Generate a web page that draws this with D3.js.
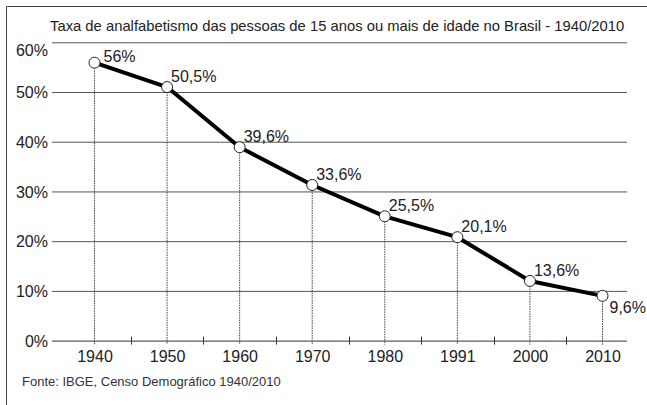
<!DOCTYPE html>
<html lang="pt">
<head>
    <meta charset="utf-8">
    <title>Taxa de analfabetismo - Brasil 1940/2010</title>
    <script src="https://d3js.org/d3.v7.min.js"></script>
    <style>
        body { margin: 0; background: #fff; }
        svg { display: block; font-family: "Liberation Sans", Arial, sans-serif; }
    </style>
</head>
<body>
    <div id="chart-container"></div>

    <script>
        // census years (category axis)
        const years = ['1940', '1950', '1960', '1970', '1980', '1991', '2000', '2010'];
        // where the points sit in the picture (percent)
        const rates = [55.9, 51.0, 38.9, 31.3, 25.0, 20.8, 12.0, 9.0];
        // printed value labels
        const rateLabels = ['56%', '50,5%', '39,6%', '33,6%', '25,5%', '20,1%', '13,6%', '9,6%'];
        const yTicks = [0, 10, 20, 30, 40, 50, 60];

        const title = 'Taxa de analfabetismo das pessoas de 15 anos ou mais de idade no Brasil - 1940/2010';
        const source = 'Fonte: IBGE, Censo Demográfico 1940/2010';

        const width = 647;
        const height = 405;

        const plotLeft = 52;
        const plotRight = 627;
        const plotTop = 42.3;
        const plotBottom = 340.6;

        const svg = d3.select('#chart-container')
            .append('svg')
            .attr('width', width)
            .attr('height', height);

        // frame (top + left edges, the rest is cut off)
        svg.append('path')
            .attr('d', `M6.5,${height} V6.5 H${width}`)
            .style('fill', 'none')
            .style('stroke', '#444')
            .style('stroke-width', 1);

        const xScale = d3.scalePoint()
            .domain(years)
            .range([94.5, 602.5]);

        const yScale = d3.scaleLinear()
            .domain([0, 60])
            .range([plotBottom, plotTop]);

        // horizontal grid + y labels
        const yAxis = d3.axisLeft(yScale)
            .tickValues(yTicks)
            .tickFormat(d => d + '%')
            .tickSize(-(plotRight - plotLeft))
            .tickPadding(4);

        const yAxisGroup = svg.append('g')
            .attr('id', 'y-axis')
            .attr('transform', `translate(${plotLeft},0)`)
            .call(yAxis);
        yAxisGroup.select('.domain').remove();
        yAxisGroup.selectAll('line')
            .style('stroke', d => d === 0 ? '#333' : '#555')
            .style('stroke-width', 1);
        yAxisGroup.selectAll('text')
            .style('font-size', '16px')
            .style('fill', '#222')
            .attr('dy', d => d === 60 ? '0.8em' : '0.35em');

        // x labels
        const xAxis = d3.axisBottom(xScale)
            .tickSize(0)
            .tickPadding(10);
        const xAxisGroup = svg.append('g')
            .attr('id', 'x-axis')
            .attr('transform', `translate(0,${plotBottom})`)
            .call(xAxis);
        xAxisGroup.select('.domain').remove();
        xAxisGroup.selectAll('text')
            .style('font-size', '16px')
            .style('fill', '#222');

        // small ticks between the years
        const midpoints = d3.pairs(years).map(([a, b]) => (xScale(a) + xScale(b)) / 2);
        svg.selectAll('line.minor-tick')
            .data(midpoints)
            .enter()
            .append('line')
            .attr('class', 'minor-tick')
            .attr('x1', d => Math.round(d) + 0.5)
            .attr('x2', d => Math.round(d) + 0.5)
            .attr('y1', plotBottom - 4)
            .attr('y2', plotBottom + 4)
            .style('stroke', '#333')
            .style('stroke-width', 1);

        // dotted drop lines
        svg.selectAll('line.drop-line')
            .data(rates)
            .enter()
            .append('line')
            .attr('class', 'drop-line')
            .attr('x1', (d, i) => xScale(years[i]))
            .attr('x2', (d, i) => xScale(years[i]))
            .attr('y1', d => yScale(d))
            .attr('y2', plotBottom + 4)
            .style('stroke', '#444')
            .style('stroke-width', 1)
            .style('stroke-dasharray', '1.5,1');

        // the line
        svg.append('path')
            .datum(rates)
            .attr('d', d3.line()
                .x((d, i) => xScale(years[i]))
                .y(d => yScale(d)))
            .style('fill', 'none')
            .style('stroke', '#000')
            .style('stroke-width', 4)
            .style('stroke-linejoin', 'round');

        // markers
        svg.selectAll('circle')
            .data(rates)
            .enter()
            .append('circle')
            .attr('cx', (d, i) => xScale(years[i]))
            .attr('cy', d => yScale(d))
            .attr('r', 5.5)
            .style('fill', '#fff')
            .style('stroke', '#222')
            .style('stroke-width', 1);

        // value labels, last one goes below its point
        const last = rates.length - 1;
        svg.selectAll('text.value-label')
            .data(rates)
            .enter()
            .append('text')
            .attr('class', 'value-label')
            .attr('x', (d, i) => xScale(years[i]) + (i === 0 ? 9 : i === last ? 7 : 4))
            .attr('y', d => yScale(d))
            .attr('dy', (d, i) => i === 0 ? -1 : i === last ? 17 : -5)
            .style('font-size', '16px')
            .style('fill', '#222')
            .text((d, i) => rateLabels[i]);

        // title and source
        svg.append('text')
            .attr('x', 50)
            .attr('y', 31)
            .style('font-size', '14.8px')
            .style('fill', '#222')
            .text(title);

        svg.append('text')
            .attr('x', 22)
            .attr('y', 386)
            .style('font-size', '13px')
            .style('fill', '#333')
            .text(source);
    </script>
</body>
</html>
